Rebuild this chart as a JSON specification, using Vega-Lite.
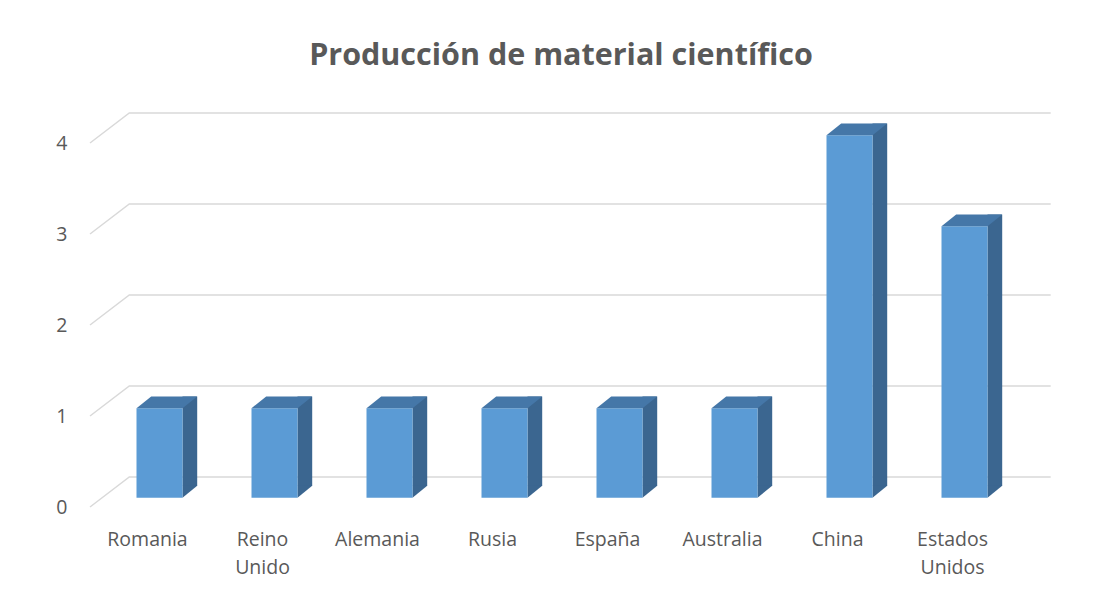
{
  "$schema": "https://vega.github.io/schema/vega-lite/v6.json",
  "width": 920,
  "height": 364,
  "autosize": {"type": "none"},
  "padding": {"left": 90, "top": 143, "right": 97, "bottom": 89},
  "background": "white",
  "config": {"view": {"stroke": null}},
  "title": {
    "text": "Producción de material científico",
    "font": "Open Sans",
    "fontSize": 30.5,
    "fontWeight": "bold",
    "color": "#595959",
    "anchor": "middle",
    "frame": "group",
    "dx": 11,
    "offset": 15,
    "baseline": "alphabetic"
  },
  "data": {
    "values": [
      {"pais": "Romania", "v": 1},
      {"pais": "Reino Unido", "v": 1},
      {"pais": "Alemania", "v": 1},
      {"pais": "Rusia", "v": 1},
      {"pais": "España", "v": 1},
      {"pais": "Australia", "v": 1},
      {"pais": "China", "v": 4},
      {"pais": "Estados Unidos", "v": 3}
    ]
  },
  "layer": [
    {
      "data": {"values": [{"g": 0}, {"g": 1}, {"g": 2}, {"g": 3}, {"g": 4}]},
      "mark": {"type": "point", "x": 0, "shape": "M0,0L39.3,-30L960.7,-30", "size": 4, "filled": false, "opacity": 1, "stroke": "#D9D9D9", "strokeWidth": 1.5},
      "encoding": {
        "y": {
          "field": "g",
          "type": "quantitative",
          "scale": {"domain": [0, 4], "nice": false, "zero": true},
          "axis": {
            "title": null,
            "values": [0, 1, 2, 3, 4],
            "format": "d",
            "ticks": false,
            "domain": false,
            "grid": false,
            "labelPadding": 23,
            "labelFont": "Open Sans",
            "labelFontSize": 19.5,
            "labelColor": "#595959"
          }
        }
      }
    },
    {
      "mark": {"type": "bar", "width": 14.7, "xOffset": 42.35, "yOffset": -19.5, "y2Offset": -21, "color": "#3B6690"},
      "encoding": {
        "x": {"field": "pais", "type": "nominal", "sort": null, "scale": {"paddingInner": 0, "paddingOuter": 0}},
        "y": {"field": "v", "type": "quantitative"},
        "y2": {"datum": 0}
      }
    },
    {
      "mark": {"type": "point", "shape": "M35,-21.3L49.7,-21.3L35,-9.3Z", "size": 4, "filled": true, "opacity": 1, "color": "#3B6690", "strokeWidth": 0},
      "encoding": {
        "x": {"field": "pais", "type": "nominal", "sort": null},
        "y": {"datum": 0}
      }
    },
    {
      "mark": {"type": "bar", "width": 46, "xOffset": 12, "yOffset": -7.8, "y2Offset": -9.3, "color": "#5B9BD5"},
      "encoding": {
        "x": {
          "field": "pais",
          "type": "nominal",
          "sort": null,
          "axis": {
            "title": null,
            "labelAngle": 0,
            "labelAlign": "center",
            "ticks": false,
            "domain": false,
            "grid": false,
            "labelPadding": 23,
            "labelFont": "Open Sans",
            "labelFontSize": 19.5,
            "labelColor": "#595959",
            "labelExpr": "split(datum.label, ' ')",
            "labelLineHeight": 28,
            "labelBaseline": "top"
          }
        },
        "y": {"field": "v", "type": "quantitative"},
        "y2": {"datum": 0}
      }
    },
    {
      "mark": {"type": "point", "shape": "M-11,-7.8L35,-7.8L49.7,-19.5L3.7,-19.5Z", "size": 4, "filled": true, "opacity": 1, "color": "#4577A8", "strokeWidth": 0},
      "encoding": {
        "x": {"field": "pais", "type": "nominal", "sort": null},
        "y": {"field": "v", "type": "quantitative"}
      }
    }
  ]
}
